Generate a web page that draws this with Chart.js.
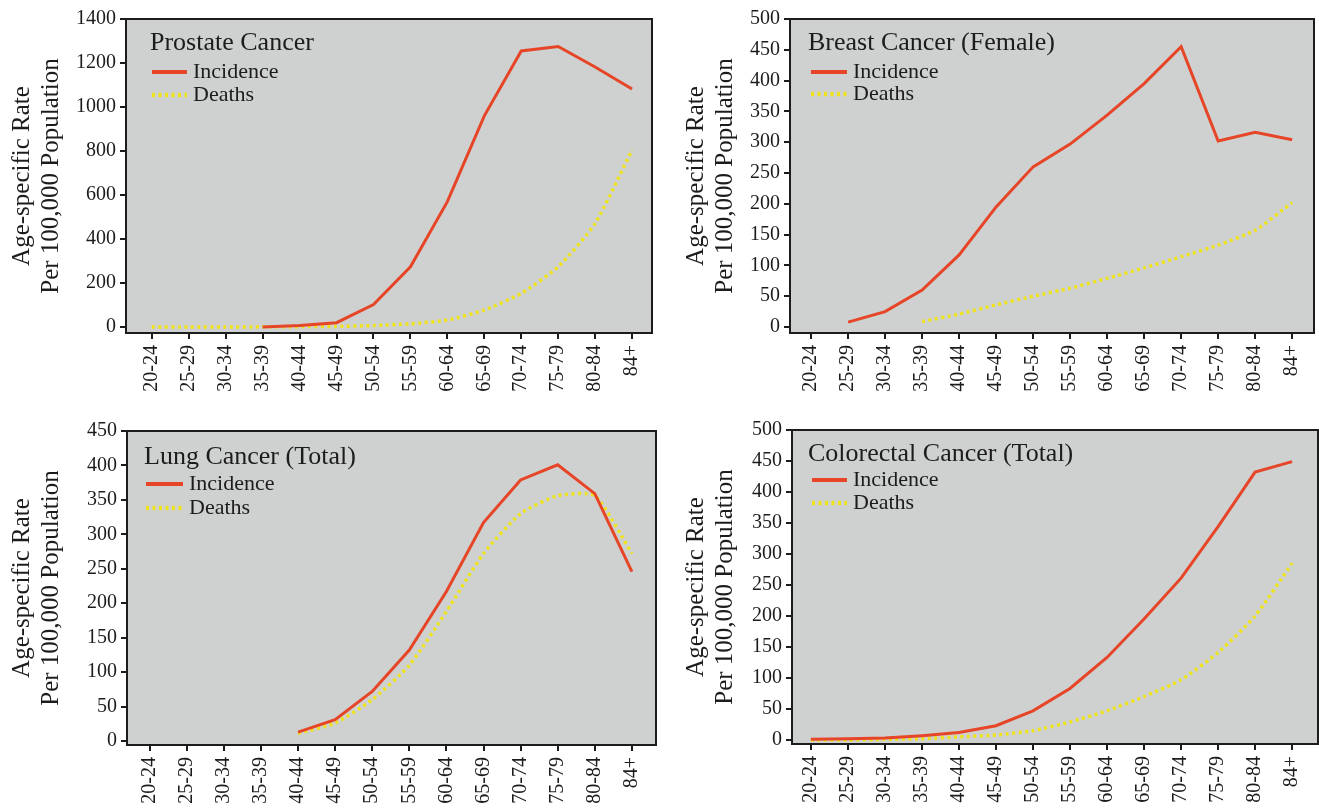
<!DOCTYPE html>
<html>
<head>
<meta charset="utf-8">
<script src="https://cdn.jsdelivr.net/npm/chart.js@4.4.1/dist/chart.umd.min.js"></script>
<style>
  html, body { margin: 0; padding: 0; background: #fff; }
  #wrap { position: relative; width: 1319px; height: 808px; overflow: hidden; }
  .panel { position: absolute; }
</style>
</head>
<body>
<div id="wrap">
  <div class="panel" style="left:0;top:0"><canvas id="prostate" width="660" height="410"></canvas></div>
  <div class="panel" style="left:660px;top:0"><canvas id="breast" width="659" height="410"></canvas></div>
  <div class="panel" style="left:0;top:410px"><canvas id="lung" width="660" height="398"></canvas></div>
  <div class="panel" style="left:660px;top:410px"><canvas id="colorectal" width="659" height="398"></canvas></div>
</div>
<script>
const ageGroups = ["20-24", "25-29", "30-34", "35-39", "40-44", "45-49", "50-54",
                   "55-59", "60-64", "65-69", "70-74", "75-79", "80-84", "84+"];

// rates per 100,000, null where no value is plotted
const prostateIncidence = [null, null, null, 0, 7, 20, 102, 274, 570, 960, 1255, 1275, 1182, 1082];
const prostateDeaths = [0, 0, 0, 1, 2, 3, 7, 15, 32, 77, 153, 274, 471, 805];

const breastIncidence = [null, 8, 25, 60, 117, 195, 260, 297, 344, 395, 455, 302, 316, 304];
const breastDeaths = [null, null, null, 9, 21, 36, 50, 63, 79, 96, 114, 133, 157, 202];

const lungIncidence = [null, null, null, null, 13, 31, 72, 132, 217, 317, 379, 401, 359, 246];
const lungDeaths = [null, null, null, null, 11, 26, 60, 110, 188, 272, 330, 356, 356, 272];

const colorectalIncidence = [1, 2, 3, 7, 12, 23, 47, 83, 133, 195, 261, 344, 432, 449];
const colorectalDeaths = [0, 0, 1, 2, 5, 8, 15, 29, 47, 70, 97, 141, 200, 285];

const prostateTicks = [0, 200, 400, 600, 800, 1000, 1200, 1400];
const breastTicks = [0, 50, 100, 150, 200, 250, 300, 350, 400, 450, 500];
const lungTicks = [0, 50, 100, 150, 200, 250, 300, 350, 400, 450];
const colorectalTicks = [0, 50, 100, 150, 200, 250, 300, 350, 400, 450, 500];

const INK = "#1c1c1c";
const PLOT_BG = "#cfd1d0";
const RED = "#e64527";
const YELLOW = "#eee31a";

Chart.defaults.font.family = "'Liberation Serif', 'DejaVu Serif', serif";
Chart.defaults.color = INK;

// grey plot area with a dark frame
const plotFrame = {
    id: "plotFrame",
    beforeDraw(chart) {
        const a = chart.chartArea;
        const ctx = chart.ctx;
        ctx.save();
        ctx.fillStyle = PLOT_BG;
        ctx.fillRect(a.left, a.top, a.right - a.left, a.bottom - a.top);
        ctx.restore();
    },
    afterDraw(chart) {
        const a = chart.chartArea;
        const ctx = chart.ctx;
        ctx.save();
        ctx.strokeStyle = INK;
        ctx.lineWidth = 2;
        ctx.strokeRect(a.left, a.top, a.right - a.left, a.bottom - a.top);
        ctx.restore();
    }
};

// title + line samples in the upper left corner of the plot
const panelLegend = {
    id: "panelLegend",
    afterDatasetsDraw(chart, args, opts) {
        const a = chart.chartArea;
        const ctx = chart.ctx;
        ctx.save();
        ctx.textBaseline = "middle";
        ctx.textAlign = "left";
        ctx.fillStyle = INK;
        ctx.font = "26px 'Liberation Serif', serif";
        ctx.fillText(opts.title, a.left + opts.titleX, a.top + opts.titleY);
        ctx.font = "22px 'Liberation Serif', serif";
        chart.data.datasets.forEach((ds, i) => {
            const y = a.top + opts.rowY[i];
            ctx.beginPath();
            ctx.strokeStyle = ds.borderColor;
            ctx.lineWidth = ds.borderWidth + 1;
            ctx.setLineDash(ds.borderDash || []);
            ctx.moveTo(a.left + opts.lineX[0], y);
            ctx.lineTo(a.left + opts.lineX[1], y);
            ctx.stroke();
            ctx.setLineDash([]);
            ctx.fillText(ds.label, a.left + opts.textX, y);
        });
        ctx.restore();
    }
};

function toPoints(values) {
    return values.map((v, i) => ({ x: i, y: v }));
}

function makePanel(id, cfg) {
    const ctx = document.getElementById(id).getContext("2d");
    return new Chart(ctx, {
        type: "line",
        data: {
            datasets: [
                {
                    label: "Incidence",
                    data: toPoints(cfg.incidence),
                    borderColor: RED,
                    borderWidth: 3,
                    pointRadius: 0,
                    tension: 0
                },
                {
                    label: "Deaths",
                    data: toPoints(cfg.deaths),
                    borderColor: YELLOW,
                    borderWidth: 3.5,
                    borderDash: [3, 3.5],
                    borderCapStyle: "butt",
                    pointRadius: 0,
                    tension: 0.2
                }
            ]
        },
        options: {
            responsive: false,
            animation: false,
            layout: { padding: cfg.padding },
            plugins: {
                legend: { display: false },
                tooltip: { enabled: false },
                panelLegend: cfg.legend
            },
            scales: {
                x: {
                    type: "linear",
                    min: cfg.xRange[0],
                    max: cfg.xRange[1],
                    afterBuildTicks(axis) {
                        axis.ticks = ageGroups.map((g, i) => ({ value: i }));
                    },
                    afterFit(axis) {
                        axis.height = cfg.xAxisHeight;
                        axis.paddingLeft = 0;
                        axis.paddingRight = 0;
                    },
                    ticks: {
                        autoSkip: false,
                        minRotation: 90,
                        maxRotation: 90,
                        padding: 6,
                        font: { size: 20 },
                        callback: (v) => ageGroups[v]
                    },
                    grid: {
                        drawOnChartArea: false,
                        drawTicks: true,
                        tickLength: 6,
                        color: INK,
                        lineWidth: 2
                    },
                    border: { display: false }
                },
                y: {
                    min: cfg.yMin,
                    max: cfg.ticks[cfg.ticks.length - 1],
                    afterBuildTicks(axis) {
                        axis.ticks = cfg.ticks.map(v => ({ value: v }));
                    },
                    afterFit(axis) {
                        axis.width = cfg.yAxisWidth;
                        axis.paddingTop = 0;
                        axis.paddingBottom = 0;
                    },
                    ticks: {
                        padding: 4,
                        font: { size: 20 },
                        callback: (v) => String(v)
                    },
                    grid: {
                        drawOnChartArea: false,
                        drawTicks: true,
                        tickLength: 6,
                        color: INK,
                        lineWidth: 2
                    },
                    border: { display: false },
                    title: {
                        display: true,
                        text: ["Age-specific Rate", "Per 100,000 Population"],
                        font: { size: 25, lineHeight: 1.16 },
                        padding: { top: cfg.yTitlePad, bottom: 0 }
                    }
                }
            }
        },
        plugins: [plotFrame, panelLegend]
    });
}

makePanel("prostate", {
    incidence: prostateIncidence,
    deaths: prostateDeaths,
    ticks: prostateTicks,
    yMin: -27,
    xRange: [-0.70, 13.54],
    padding: { top: 19, right: 8, left: 0, bottom: 0 },
    yAxisWidth: 126,
    xAxisHeight: 77,
    yTitlePad: 8,
    legend: { title: "Prostate Cancer", titleX: 24, titleY: 24, lineX: [26, 61], textX: 67, rowY: [53, 76] }
});

makePanel("breast", {
    incidence: breastIncidence,
    deaths: breastDeaths,
    ticks: breastTicks,
    yMin: -9.7,
    xRange: [-0.57, 13.59],
    padding: { top: 19, right: 5, left: 0, bottom: 0 },
    yAxisWidth: 130,
    xAxisHeight: 77,
    yTitlePad: 22,
    legend: { title: "Breast Cancer (Female)", titleX: 18, titleY: 24, lineX: [21, 57], textX: 63, rowY: [53, 75] }
});

makePanel("lung", {
    incidence: lungIncidence,
    deaths: lungDeaths,
    ticks: lungTicks,
    yMin: -5.8,
    xRange: [-0.61, 13.65],
    padding: { top: 21, right: 4, left: 0, bottom: 0 },
    yAxisWidth: 127,
    xAxisHeight: 63,
    yTitlePad: 8,
    legend: { title: "Lung Cancer (Total)", titleX: 17, titleY: 26, lineX: [19, 56], textX: 62, rowY: [53, 77] }
});

makePanel("colorectal", {
    incidence: colorectalIncidence,
    deaths: colorectalDeaths,
    ticks: colorectalTicks,
    yMin: -6.5,
    xRange: [-0.51, 13.7],
    padding: { top: 20, right: 1, left: 0, bottom: 0 },
    yAxisWidth: 132,
    xAxisHeight: 64,
    yTitlePad: 22,
    legend: { title: "Colorectal Cancer (Total)", titleX: 16, titleY: 24, lineX: [20, 55], textX: 61, rowY: [50, 73] }
});
</script>
</body>
</html>
